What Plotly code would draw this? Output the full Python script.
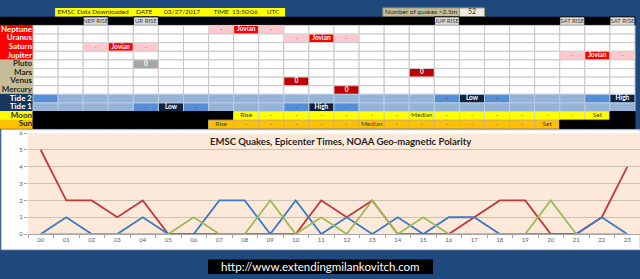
import plotly.graph_objects as go

# ---------------- data ----------------
hours = ["00", "01", "02", "03", "04", "05", "06", "07", "08", "09", "10", "11",
         "12", "13", "14", "15", "16", "17", "18", "19", "20", "21", "22", "23"]
red_counts = [5, 2, 2, 1, 2, 0, 0, 0, 0, 0, 0, 2, 1, 2, 0, 0, 0, 1, 2, 2, 0, 0, 1, 4]
blue_counts = [0, 1, 0, 0, 1, 0, 0, 2, 2, 0, 2, 0, 1, 0, 1, 0, 1, 1, 0, 0, 0, 0, 1, 0]
green_counts = [0, 0, 0, 0, 0, 0, 1, 0, 0, 2, 0, 1, 0, 2, 0, 1, 0, 0, 0, 0, 2, 0, 0, 0]

chart_title = "EMSC Quakes, Epicenter Times, NOAA Geo-magnetic Polarity"
site_url = "http://www.extendingmilankovitch.com"

header_label = "EMSC Data Downloaded"
header_date = "03/27/2017"
header_time = "13:50:06"
header_tz = "UTC"
quake_label = "Number of quakes >2.5m"
quake_total = 52

row_labels = ["Neptune", "Uranus", "Saturn", "Jupiter", "Pluto", "Mars", "Venus",
              "Mercury", "Tide 2", "Tide 1", "Moon", "Sun"]
label_kinds = ["red", "red", "red", "red", "tan", "tan", "tan", "tan",
               "navy", "navy", "moon", "sun"]
row_defaults = ["w", "w", "w", "w", "w", "w", "w", "w", "l", "l", "k", "k"]

rise_cells = {2: ("r", "NEP RISE"), 4: ("r", "UR RISE"), 16: ("r", "JUP RISE"),
              21: ("r", "SAT RISE"), 23: ("r", "SAT RISE")}
neptune_cells = {7: ("p", "-"), 8: ("j", "Jovian"), 9: ("p", "-")}
uranus_cells = {10: ("p", "-"), 11: ("j", "Jovian"), 12: ("p", "-")}
saturn_cells = {2: ("p", "-"), 3: ("j", "Jovian"), 4: ("p", "-")}
jupiter_cells = {21: ("p", "-"), 22: ("j", "Jovian"), 23: ("p", "-")}
pluto_cells = {4: ("g", "0")}
mars_cells = {15: ("d", "0")}
venus_cells = {10: ("d", "0")}
mercury_cells = {12: ("d", "0")}
tide2_cells = {0: ("m", ""), 16: ("m", "-"), 17: ("n", "Low"), 18: ("m", "-"),
               22: ("m", "-"), 23: ("n", "High")}
tide1_cells = {4: ("m", "-"), 5: ("n", "Low"), 6: ("m", "-"),
               10: ("m", "-"), 11: ("n", "High"), 12: ("m", "-")}
moon_cells = {8: ("y", "Rise"), 9: ("y", "-"), 10: ("y", "-"), 11: ("y", "-"),
              12: ("y", "-"), 13: ("y", "-"), 14: ("y", "-"), 15: ("y", "Median"),
              16: ("y", "-"), 17: ("y", "-"), 18: ("y", "-"), 19: ("y", "-"),
              20: ("y", "-"), 21: ("y", "-"), 22: ("y", "Set")}
sun_cells = {7: ("o", "Rise"), 8: ("o", "-"), 9: ("o", "-"), 10: ("o", "-"),
             11: ("o", "-"), 12: ("o", "-"), 13: ("o", "Median"), 14: ("o", "-"),
             15: ("o", "-"), 16: ("o", "-"), 17: ("o", "-"), 18: ("o", "-"),
             19: ("o", "-"), 20: ("o", "Set")}
row_cells = [neptune_cells, uranus_cells, saturn_cells, jupiter_cells, pluto_cells,
             mars_cells, venus_cells, mercury_cells, tide2_cells, tide1_cells,
             moon_cells, sun_cells]

# ---------------- styles ----------------
FONT = "Lato"
BLUE_BG = "#1F497D"
STYLE = {  # fill, border, text colour, bold
    "w": ("#FFFFFF", "#C8C8C8", "#404040", False),
    "p": ("#FFC7CE", "#D8D8D8", "#595959", False),
    "j": ("#FF0000", "#D8D8D8", "#FFFFFF", True),
    "g": ("#A6A6A6", "#C8C8C8", "#FFFFFF", True),
    "d": ("#C00000", "#C8C8C8", "#FFFFFF", True),
    "l": ("#95B3D7", "#B8CCE4", "#1F1F1F", False),
    "m": ("#558ED5", "#B8CCE4", "#1F3864", False),
    "n": ("#10243F", "#B8CCE4", "#FFFFFF", True),
    "k": ("#000000", "#000000", "#FFFFFF", False),
    "y": ("#FFFF00", "#D8D8A0", "#404040", False),
    "o": ("#FFC000", "#D8B060", "#404040", False),
    "r": ("#D9D9D9", "#000000", "#404040", False),
}
LABEL_STYLE = {
    "red": ("#FF0000", "#FFFFFF"),
    "tan": ("#C4BD97", "#262626"),
    "navy": ("#17375E", "#FFFFFF"),
    "moon": ("#FFFF00", "#262626"),
    "sun": ("#FFC000", "#262626"),
}

W, H = 640, 279
LABEL_X0 = -1.316   # left edge of label column in column units
NCOL = len(hours)


def py(p):
    return 1 - p / H


shapes = []
tx, ty, tt, tc, ts, tp = [], [], [], [], [], []


def add_text(x, y, text, color, size, pos="middle center", bold=False):
    tx.append(x)
    ty.append(y)
    tt.append(f"<b>{text}</b>" if bold else text)
    tc.append(color)
    ts.append(size)
    tp.append(pos)


def add_cell(x0, x1, v, fill, border):
    shapes.append(dict(type="rect", xref="x2", yref="y2", x0=x0, x1=x1, y0=v, y1=v + 1,
                       fillcolor=fill, line=dict(color=border, width=1), layer="below"))


# header row (v in [0,1])
shapes.append(dict(type="rect", xref="x2", yref="y2", x0=0.88, x1=10.05, y0=-0.03, y1=1.0,
                   fillcolor="#FFFF00", line=dict(width=0), layer="below"))
shapes.append(dict(type="rect", xref="x2", yref="y2", x0=13.95, x1=17.0, y0=-0.03, y1=1.0,
                   fillcolor="#C4BD97", line=dict(color="#A09870", width=1), layer="below"))
shapes.append(dict(type="rect", xref="x2", yref="y2", x0=17.0, x1=18.0, y0=-0.03, y1=1.0,
                   fillcolor="#EEECE1", line=dict(color="#A09870", width=1), layer="below"))
add_text(0.98, 0.5, header_label, "#262626", 6.5, "middle right")
add_text(4.43, 0.5, "DATE", "#262626", 6.5)
add_text(5.94, 0.5, header_date, "#262626", 6.5)
add_text(7.5, 0.5, "TIME", "#262626", 6.5)
add_text(8.45, 0.5, header_time, "#262626", 6.5)
add_text(9.57, 0.5, header_tz, "#262626", 6.5)
add_text(15.47, 0.5, quake_label, "#262626", 6.5)
add_text(17.5, 0.5, str(quake_total), "#262626", 7)

# rise row (v in [1,2])
shapes.append(dict(type="rect", xref="x2", yref="y2", x0=LABEL_X0, x1=NCOL, y0=1, y1=2,
                   fillcolor="#000000", line=dict(width=0), layer="below"))
for c, (st, txt) in rise_cells.items():
    fill, border, col, bold = STYLE[st]
    add_cell(c, c + 1, 1, fill, "#000000")
    add_text(c + 0.5, 1.5, txt, col, 6)

# planet / tide / moon / sun rows
for i, label in enumerate(row_labels):
    v = 2 + i
    lfill, lcol = LABEL_STYLE[label_kinds[i]]
    add_cell(LABEL_X0, 0, v, lfill, lfill)
    add_text(-0.04, v + 0.5, label, lcol, 8, "middle left", True)
    cells = row_cells[i]
    for c in range(NCOL):
        st, txt = cells.get(c, (row_defaults[i], ""))
        fill, border, col, bold = STYLE[st]
        add_cell(c, c + 1, v, fill, border)
        if txt:
            add_text(c + 0.5, v + 0.5, txt, col, 6.5, bold=bold)

# chart area (white) and plot area (peach)
shapes.insert(0, dict(type="rect", xref="paper", yref="paper", x0=0.002, x1=1.0,
                      y0=py(252), y1=py(129), fillcolor="#FFFFFF",
                      line=dict(color="#C8C8C8", width=1), layer="below"))
shapes.append(dict(type="rect", xref="x domain", yref="y domain", x0=0, x1=1, y0=0, y1=1,
                   fillcolor="#FDE9D9", line=dict(width=0), layer="below"))
# url box
shapes.append(dict(type="rect", xref="paper", yref="paper", x0=208 / W, x1=433 / W,
                   y0=py(277), y1=py(262), fillcolor="#000000", line=dict(width=0),
                   layer="above"))

fig = go.Figure()
fig.add_trace(go.Scatter(x=hours, y=red_counts, mode="lines", name="red",
                         line=dict(color="#BE3A3A", width=1.8), xaxis="x", yaxis="y",
                         hoverinfo="skip"))
fig.add_trace(go.Scatter(x=hours, y=blue_counts, mode="lines", name="blue",
                         line=dict(color="#3F7AC4", width=1.8), xaxis="x", yaxis="y",
                         hoverinfo="skip"))
fig.add_trace(go.Scatter(x=hours, y=green_counts, mode="lines", name="green",
                         line=dict(color="#9BBB59", width=1.8), xaxis="x", yaxis="y",
                         hoverinfo="skip"))
fig.add_trace(go.Scatter(x=tx, y=ty, text=tt, mode="text", textposition=tp,
                         textfont=dict(family=FONT, color=tc, size=ts),
                         xaxis="x2", yaxis="y2", hoverinfo="skip"))

fig.update_layout(
    width=W, height=H, margin=dict(l=0, r=0, t=0, b=0),
    paper_bgcolor=BLUE_BG, plot_bgcolor="rgba(0,0,0,0)",
    showlegend=False, shapes=shapes,
    font=dict(family=FONT),
    xaxis=dict(domain=[28 / W, 1], type="category", categoryarray=hours,
               categoryorder="array", range=[-0.5, 23.5], tickson="boundaries",
               ticks="outside", ticklen=3, tickcolor="#A6A6A6", showgrid=False,
               showline=True, linecolor="#A6A6A6", linewidth=1, zeroline=False,
               tickfont=dict(size=6, color="#595959", family=FONT), anchor="y"),
    yaxis=dict(domain=[py(236), py(132.5)], range=[0, 6], dtick=1,
               ticks="outside", ticklen=3, tickcolor="#A6A6A6",
               showgrid=True, gridcolor="#C9C0B8", gridwidth=1, zeroline=False,
               showline=False, tickfont=dict(size=6, color="#595959", family=FONT),
               anchor="x"),
    xaxis2=dict(domain=[0, 1], range=[LABEL_X0, 24.2], visible=False, anchor="y2"),
    yaxis2=dict(domain=[py(128), 1], range=[14.0, -0.487], visible=False, anchor="x2"),
    annotations=[
        dict(text=f"<b>{chart_title}</b>", xref="paper", yref="paper", x=340 / W,
             y=py(141), showarrow=False, font=dict(family=FONT, size=9.5, color="#1F1F1F"),
             xanchor="center", yanchor="middle"),
        dict(text=site_url, xref="paper", yref="paper", x=320.5 / W, y=py(269.5),
             showarrow=False, font=dict(family=FONT, size=11.5, color="#FFFFFF"),
             xanchor="center", yanchor="middle"),
    ],
)

fig.write_html("out.html")
